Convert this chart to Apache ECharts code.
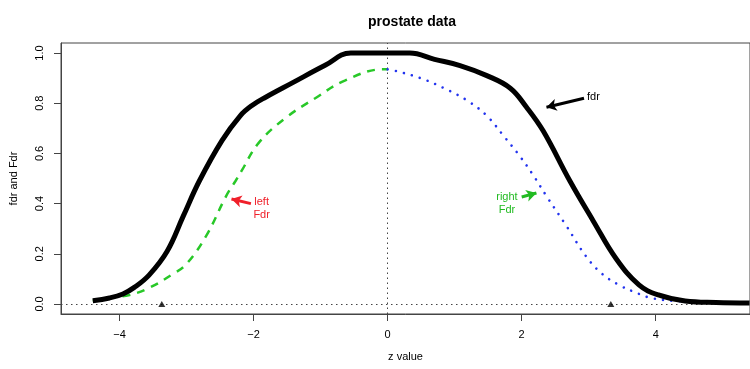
<!DOCTYPE html>
<html>
<head>
<meta charset="utf-8">
<script src="https://cdn.jsdelivr.net/npm/echarts@6/dist/echarts.min.js"></script>
<style>
  html, body { margin: 0; padding: 0; background: #fff; }
  #chart { width: 750px; height: 369px; }
</style>
</head>
<body>
<div id="chart"></div>
<script>
// fdr curve (black)
const fdrX = [-4.40, -4.15, -3.95, -3.78, -3.56, -3.29, -3.05, -2.81, -2.47, -2.20, -2.03, -1.82, -1.43, -0.94, -0.55, 0.33, 0.70, 1.08, 1.48, 1.83, 2.07, 2.32, 2.72, 3.07, 3.41, 3.75, 4.04, 4.44, 4.90, 5.40];
const fdrY = [0.013, 0.024, 0.04, 0.066, 0.115, 0.21, 0.35, 0.49, 0.652, 0.75, 0.79, 0.824, 0.88, 0.95, 1.0, 1.0, 0.975, 0.95, 0.91, 0.86, 0.785, 0.69, 0.49, 0.33, 0.18, 0.076, 0.036, 0.012, 0.006, 0.004];

// left Fdr (green dashed)
const leftX = [-4.40, -4.15, -3.85, -3.56, -3.20, -3.00, -2.71, -2.41, -2.27, -2.18, -1.93, -1.53, -1.08, -0.64, -0.07, 0];
const leftY = [0.013, 0.024, 0.036, 0.064, 0.12, 0.16, 0.27, 0.43, 0.49, 0.53, 0.64, 0.74, 0.82, 0.89, 0.935, 0.935];

// right Fdr (blue dotted)
const rightX = [0, 0.10, 0.49, 0.84, 1.19, 1.48, 1.73, 1.97, 2.18, 2.37, 2.67, 2.96, 3.20, 3.45, 3.68, 3.93, 4.30, 4.80, 5.40];
const rightY = [0.935, 0.93, 0.90, 0.86, 0.81, 0.75, 0.67, 0.59, 0.51, 0.43, 0.31, 0.19, 0.12, 0.076, 0.048, 0.024, 0.012, 0.006, 0.004];

// cutoff triangles on the baseline
const cutX = [-3.37, 3.33];

const xTicks = [-4, -2, 0, 2, 4];
const yTicks = [0, 0.2, 0.4, 0.6, 0.8, 1.0];

// annotations: arrow from -> to, and text
const arrowFrom = [[2.93, 0.82], [-2.04, 0.40], [2.00, 0.426]];
const arrowTo = [[2.37, 0.784], [-2.33, 0.418], [2.22, 0.442]];
const noteX = [3.07, -1.88, 1.78];
const noteY = [0.824, 0.382, 0.40];
const noteText = ['fdr', 'left\nFdr', 'right\nFdr'];
const noteColor = ['#000000', '#f0202a', '#22bb22'];

const toPairs = (xs, ys) => xs.map((x, i) => [x, ys[i]]);

const chart = echarts.init(document.getElementById('chart'));

const font = 'Liberation Sans, Arial, Helvetica, sans-serif';

chart.setOption({
  animation: false,
  title: {
    text: 'prostate data',
    left: 407,
    textAlign: 'center',
    top: 10,
    textStyle: { fontFamily: font, fontSize: 14, fontWeight: 'bold', color: '#000' }
  },
  grid: {
    left: 61, top: 43, right: -5, bottom: 55,
    show: true, borderColor: '#444', borderWidth: 1
  },
  xAxis: {
    type: 'value',
    min: -4.874, max: 5.407,
    name: 'z value',
    nameLocation: 'middle',
    nameGap: 37,
    nameTextStyle: { fontFamily: font, fontSize: 11, color: '#000' },
    splitLine: { show: false },
    axisLine: { show: true, onZero: false, lineStyle: { color: '#444' } },
    axisTick: { show: true, length: 7, lineStyle: { color: '#444' }, customValues: xTicks },
    axisLabel: {
      margin: 15, fontFamily: font, fontSize: 11, color: '#000',
      customValues: xTicks,
      formatter: v => String(v).replace('-', '\u2212')
    }
  },
  yAxis: {
    type: 'value',
    min: -0.04, max: 1.04,
    name: 'fdr and Fdr',
    nameLocation: 'middle',
    nameGap: 42,
    nameRotate: 90,
    nameTextStyle: { fontFamily: font, fontSize: 11, color: '#000' },
    splitLine: { show: false },
    axisLine: { show: true, onZero: false, lineStyle: { color: '#444' } },
    axisTick: { show: true, length: 7, lineStyle: { color: '#444' }, customValues: yTicks },
    axisLabel: {
      margin: 16, rotate: 90, fontFamily: font, fontSize: 11, color: '#000',
      customValues: yTicks,
      formatter: v => v.toFixed(1)
    }
  },
  series: [
    {
      name: 'left Fdr',
      type: 'line',
      data: toPairs(leftX, leftY),
      smooth: 0.4,
      showSymbol: false,
      lineStyle: { color: '#28c828', width: 2.5, type: [8, 7] },
      z: 3
    },
    {
      name: 'right Fdr',
      type: 'line',
      data: toPairs(rightX, rightY),
      smooth: 0.4,
      showSymbol: false,
      lineStyle: { color: '#2233ee', width: 2.6, type: [0.01, 8.3], cap: 'round' },
      z: 3
    },
    {
      name: 'fdr',
      type: 'line',
      data: toPairs(fdrX, fdrY),
      smooth: 0.4,
      showSymbol: false,
      lineStyle: { color: '#000', width: 5 },
      z: 4
    },
    {
      name: 'cutoffs',
      type: 'scatter',
      data: cutX.map(x => [x, 0]),
      symbol: 'triangle',
      symbolSize: [7, 6],
      itemStyle: { color: '#000' },
      z: 5,
      markLine: {
        silent: true,
        symbol: ['none', 'none'],
        label: { show: false },
        lineStyle: { color: '#444', width: 1, type: [1.5, 3.5] },
        data: [{ xAxis: 0 }, { yAxis: 0 }],
        z: 2
      }
    },
    {
      name: 'notes',
      type: 'line',
      data: [],
      markLine: {
        silent: true,
        symbol: ['none', 'arrow'],
        symbolSize: [9, 10],
        label: { show: false },
        data: arrowFrom.map((f, i) => [
          { coord: f, lineStyle: { color: noteColor[i], width: 3, type: 'solid' }, itemStyle: { color: noteColor[i] } },
          { coord: arrowTo[i] }
        ])
      },
      markPoint: {
        silent: true,
        symbolSize: 0,
        data: noteText.map((t, i) => ({
          coord: [noteX[i], noteY[i]],
          label: {
            show: true, position: 'inside', formatter: t,
            fontFamily: font, fontSize: 11, lineHeight: 13, color: noteColor[i], align: 'center'
          }
        }))
      }
    }
  ]
});
</script>
</body>
</html>
